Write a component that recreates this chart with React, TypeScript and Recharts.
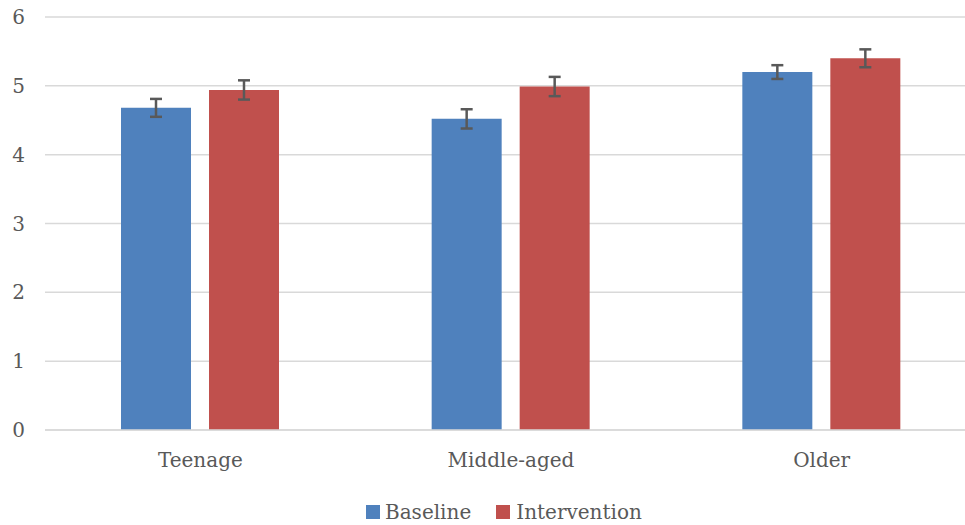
import React from 'react';
import { BarChart, Bar, XAxis, YAxis, CartesianGrid, Legend, ErrorBar } from 'recharts';

const categories = ['Teenage', 'Middle-aged', 'Older'];
const baseline = [4.68, 4.52, 5.2];
const intervention = [4.94, 4.99, 5.4];
const baselineErr = [0.13, 0.14, 0.1];
const interventionErr = [0.14, 0.14, 0.13];
const yTicks = [0, 1, 2, 3, 4, 5, 6];

const data = categories.map((name, i) => ({
  name,
  baseline: baseline[i],
  intervention: intervention[i],
  baselineErr: baselineErr[i],
  interventionErr: interventionErr[i],
}));

const FONT = '"DejaVu Serif", serif';
const TEXT = '#595959';
const BLUE = '#4F81BD';
const RED = '#C0504D';

const LegendContent = () => (
  <div style={{ display: 'flex', alignItems: 'center', height: 26, fontFamily: FONT, fontSize: 20, color: TEXT }}>
    <span style={{ width: 14, height: 14, background: BLUE, display: 'inline-block', marginRight: 5 }} />
    <span style={{ marginRight: 25 }}>Baseline</span>
    <span style={{ width: 14, height: 14, background: RED, display: 'inline-block', marginRight: 6 }} />
    <span>Intervention</span>
  </div>
);

const App: React.FC = () => {
  return (
    <div style={{ position: 'absolute', left: 0, top: 0, width: 965, height: 525, overflow: 'hidden', background: '#fff' }}>
      <BarChart
        width={985}
        height={525}
        data={data}
        margin={{ top: 17, right: 8, left: 0, bottom: 0 }}
        barCategoryGap={76}
        barGap={18}
      >
        <CartesianGrid vertical={false} stroke="#d9d9d9" strokeWidth={1.5} />
        <XAxis
          dataKey="name"
          height={69}
          tickSize={0}
          tickMargin={23}
          axisLine={{ stroke: '#d9d9d9', strokeWidth: 1.5 }}
          tickLine={false}
          tick={{ fontSize: 20, fill: TEXT, fontFamily: FONT }}
        />
        <YAxis
          width={45}
          domain={[0, 6]}
          ticks={yTicks}
          tickSize={0}
          tickMargin={20}
          axisLine={false}
          tickLine={false}
          tick={{ fontSize: 20, fill: TEXT, fontFamily: FONT }}
        />
        <Legend
          verticalAlign="bottom"
          content={<LegendContent />}
          wrapperStyle={{ left: 366, bottom: 0, width: 'auto' }}
        />
        <Bar dataKey="baseline" name="Baseline" fill={BLUE} barSize={70} isAnimationActive={false}>
          <ErrorBar dataKey="baselineErr" width={6} strokeWidth={2.5} stroke={TEXT} isAnimationActive={false} />
        </Bar>
        <Bar dataKey="intervention" name="Intervention" fill={RED} barSize={70} isAnimationActive={false}>
          <ErrorBar dataKey="interventionErr" width={6} strokeWidth={2.5} stroke={TEXT} isAnimationActive={false} />
        </Bar>
      </BarChart>
    </div>
  );
};

export default App;
